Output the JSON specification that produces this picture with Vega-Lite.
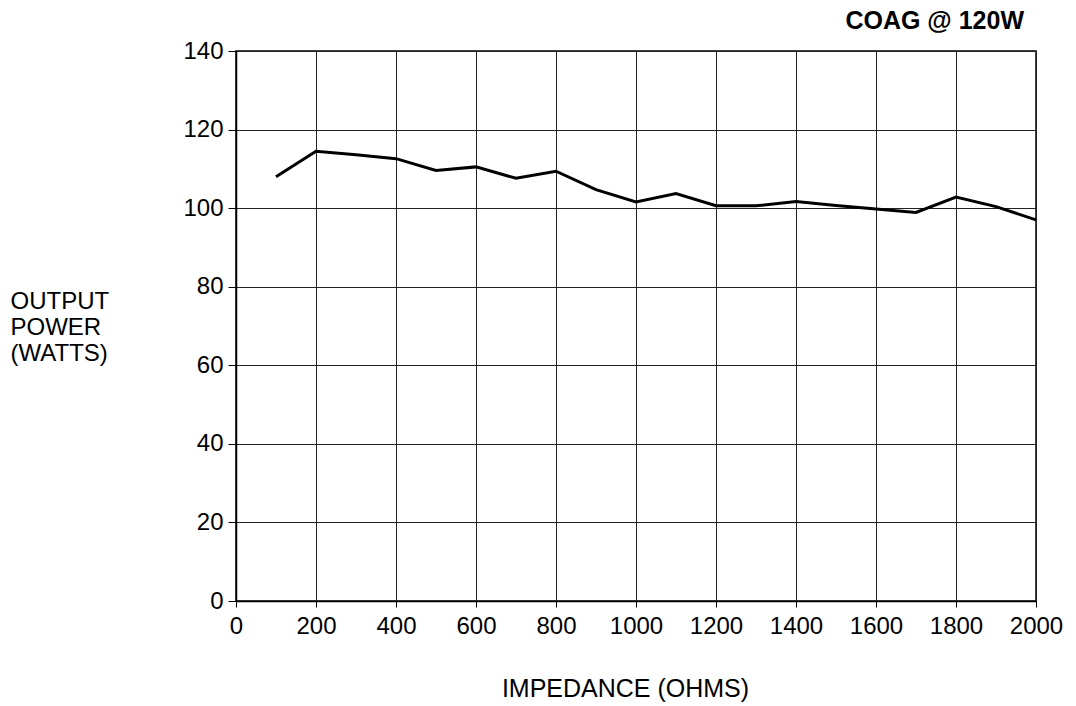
{
  "$schema": "https://vega.github.io/schema/vega-lite/v6.json",
  "width": 800,
  "height": 550,
  "autosize": {"type": "none"},
  "padding": {"left": 236, "top": 51, "right": 40, "bottom": 105},
  "background": "white",
  "title": {
    "text": "COAG @ 120W",
    "anchor": "end",
    "orient": "top",
    "frame": "group",
    "font": "Liberation Sans",
    "fontSize": 25,
    "fontWeight": "bold",
    "color": "black",
    "baseline": "bottom",
    "offset": 4,
    "dx": -12,
    "dy": 24
  },
  "config": {
    "view": {"stroke": "black", "strokeWidth": 1.5},
    "font": "Liberation Sans"
  },
  "data": {
    "values": [
      {"impedance": 100, "power": 108},
      {"impedance": 200, "power": 114.5},
      {"impedance": 300, "power": 113.6},
      {"impedance": 400, "power": 112.6},
      {"impedance": 500, "power": 109.6},
      {"impedance": 600, "power": 110.5},
      {"impedance": 700, "power": 107.6},
      {"impedance": 800, "power": 109.4},
      {"impedance": 900, "power": 104.7},
      {"impedance": 1000, "power": 101.6},
      {"impedance": 1100, "power": 103.7},
      {"impedance": 1200, "power": 100.6},
      {"impedance": 1300, "power": 100.6},
      {"impedance": 1400, "power": 101.7},
      {"impedance": 1500, "power": 100.7},
      {"impedance": 1600, "power": 99.8},
      {"impedance": 1700, "power": 98.9},
      {"impedance": 1800, "power": 102.8},
      {"impedance": 1900, "power": 100.4},
      {"impedance": 2000, "power": 97}
    ]
  },
  "mark": {"type": "line", "color": "black", "strokeWidth": 3, "strokeJoin": "miter"},
  "encoding": {
    "x": {
      "field": "impedance",
      "type": "quantitative",
      "scale": {"domain": [0, 2000], "nice": false, "zero": false},
      "axis": {
        "values": [0, 200, 400, 600, 800, 1000, 1200, 1400, 1600, 1800, 2000],
        "format": "d",
        "title": "IMPEDANCE (OHMS)",
        "titleFont": "Liberation Sans",
        "titleFontSize": 25,
        "titleFontWeight": "normal",
        "titleColor": "black",
        "titleX": 389,
        "titleY": 87,
        "titleAlign": "center",
        "titleBaseline": "middle",
        "labelFontSize": 24,
        "labelColor": "black",
        "labelPadding": 7,
        "labelFlush": false,
        "tickSize": 6,
        "tickColor": "black",
        "domainColor": "black",
        "domainWidth": 1.5,
        "grid": true,
        "gridColor": "#222",
        "gridWidth": 1,
        "gridOpacity": 1
      }
    },
    "y": {
      "field": "power",
      "type": "quantitative",
      "scale": {"domain": [0, 140], "nice": false},
      "axis": {
        "values": [0, 20, 40, 60, 80, 100, 120, 140],
        "title": ["OUTPUT", "POWER", "(WATTS)"],
        "titleFont": "Liberation Sans",
        "titleFontSize": 24,
        "titleFontWeight": "normal",
        "titleColor": "black",
        "titleAngle": 0,
        "titleAlign": "left",
        "titleBaseline": "top",
        "titleX": -226,
        "titleY": 238,
        "titleLineHeight": 26,
        "labelFontSize": 24,
        "labelColor": "black",
        "labelPadding": 5,
        "labelFlush": false,
        "tickSize": 8,
        "tickColor": "black",
        "domainColor": "black",
        "domainWidth": 1.5,
        "grid": true,
        "gridColor": "#222",
        "gridWidth": 1,
        "gridOpacity": 1
      }
    }
  }
}
